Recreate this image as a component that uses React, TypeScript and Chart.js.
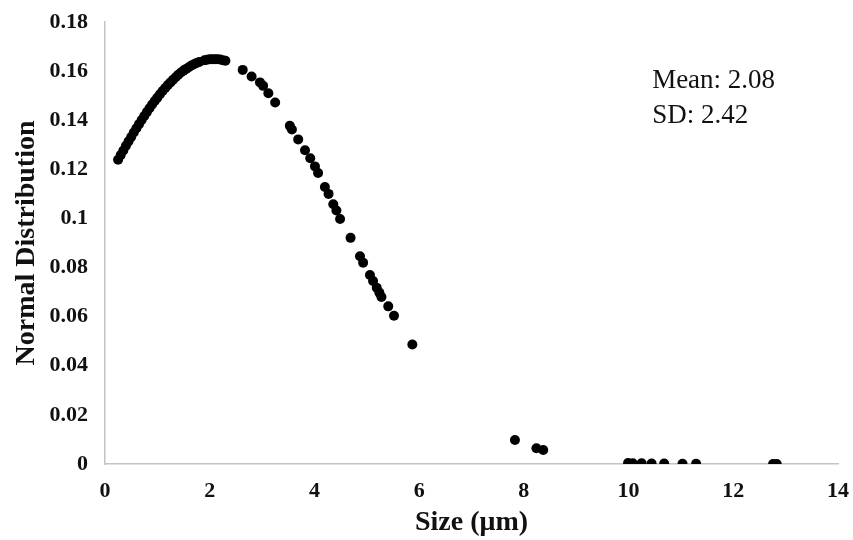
import React, { useEffect, useRef } from "react";
import { Chart, registerables } from "chart.js";

Chart.register(...registerables);

// Size (µm) values
const sizes: number[] = [
  0.25, 0.3, 0.35, 0.4, 0.45, 0.5, 0.55, 0.6, 0.65, 0.7, 0.75, 0.8, 0.85, 0.9, 0.95,
  1.0, 1.05, 1.1, 1.15, 1.2, 1.25, 1.3, 1.35, 1.4, 1.45, 1.5, 1.55, 1.6, 1.65, 1.7,
  1.75, 1.8, 1.9, 1.95, 2.0, 2.05, 2.1, 2.15, 2.2, 2.25, 2.3,
  2.63, 2.8, 2.96, 3.02, 3.12, 3.25, 3.53, 3.57, 3.69, 3.82, 3.92, 4.01, 4.07,
  4.2, 4.27, 4.36, 4.42, 4.49, 4.69, 4.87, 4.93, 5.06, 5.12, 5.19, 5.24, 5.28,
  5.41, 5.52, 5.87,
  7.83, 8.24, 8.37,
  9.99, 10.08, 10.25, 10.44, 10.68, 11.03, 11.29, 12.76, 12.83,
];

// Normal distribution values
const densities: number[] = [
  0.1239, 0.1258, 0.1277, 0.1296, 0.1314, 0.1332, 0.135, 0.1367, 0.1384, 0.1401, 0.1417,
  0.1433, 0.1449, 0.1464, 0.1478, 0.1492, 0.1506, 0.1519, 0.1531, 0.1543, 0.1554,
  0.1565, 0.1575, 0.1585, 0.1594, 0.1602, 0.1609, 0.1616, 0.1623, 0.1628, 0.1633,
  0.1637, 0.1644, 0.1646, 0.1648, 0.1648, 0.1648, 0.1648, 0.1647, 0.1644, 0.1642,
  0.1605, 0.1578, 0.1554, 0.154, 0.151, 0.1472, 0.1377, 0.1362, 0.1322, 0.1278,
  0.1245, 0.1212, 0.1185, 0.1128, 0.11, 0.1058, 0.1032, 0.0998, 0.0921, 0.0846,
  0.082, 0.077, 0.0745, 0.0718, 0.0698, 0.068, 0.0642, 0.0604, 0.0487,
  0.0098, 0.0064, 0.0057,
  0.0004, 0.0003, 0.0003, 0.0002, 0.0002, 0.0001, 0.0001, 0.0, 0.0,
];

const annotationLines: string[] = ["Mean: 2.08", "SD: 2.42"];

const xTitle = "Size (\u03bcm)";
const yTitle = "Normal Distribution";

const serif = "'Liberation Serif', 'Times New Roman', serif";

export default function App() {
  const canvasRef = useRef<HTMLCanvasElement | null>(null);

  useEffect(() => {
    if (!canvasRef.current) return;
    const annotationPlugin = {
      id: "statsText",
      afterDraw(chart: any) {
        const { ctx, chartArea } = chart;
        const xs = chart.scales.x;
        ctx.save();
        ctx.fillStyle = "#111";
        ctx.font = `27px ${serif}`;
        ctx.textAlign = "left";
        ctx.textBaseline = "alphabetic";
        const left = xs.getPixelForValue(10.45);
        annotationLines.forEach((t, i) => {
          ctx.fillText(t, left, chartArea.top + 66 + i * 35);
        });
        ctx.restore();
      },
    };

    const chart = new Chart(canvasRef.current, {
      type: "scatter",
      data: {
        datasets: [
          {
            data: sizes.map((s, i) => ({ x: s, y: densities[i] })),
            backgroundColor: "#000",
            borderColor: "#000",
            pointRadius: 5,
            pointBorderWidth: 0,
            pointHoverRadius: 5,
          },
        ],
      },
      options: {
        animation: false,
        responsive: true,
        maintainAspectRatio: false,
        layout: { padding: { top: 22, right: 15, left: 0, bottom: 0 } },
        plugins: { legend: { display: false }, tooltip: { enabled: false } },
        scales: {
          x: {
            type: "linear",
            min: 0,
            max: 14,
            afterFit: (scale: any) => {
              scale.height = 76;
              scale.paddingRight = 0;
              scale.paddingLeft = 0;
            },
            grid: { display: false, drawTicks: false },
            border: { display: true, color: "#c4c4c4", width: 1.5 },
            ticks: {
              stepSize: 2,
              color: "#111",
              padding: 14,
              font: { family: serif, size: 22, weight: "bold" },
              callback: (v: any) => String(v),
            },
            title: {
              display: true,
              text: xTitle,
              color: "#111",
              padding: { top: 0, bottom: 0 },
              font: { family: serif, size: 28, weight: "bold" },
            },
          },
          y: {
            type: "linear",
            min: 0,
            max: 0.18,
            afterFit: (scale: any) => {
              scale.width = 105;
              scale.paddingTop = 0;
              scale.paddingBottom = 0;
            },
            grid: { display: false, drawTicks: false },
            border: { display: true, color: "#c4c4c4", width: 1.5 },
            ticks: {
              stepSize: 0.02,
              color: "#111",
              padding: 17,
              font: { family: serif, size: 22, weight: "bold" },
              callback: (v: any) => String(Math.round(Number(v) * 100) / 100),
            },
            title: {
              display: true,
              text: yTitle,
              color: "#111",
              padding: { top: 10, bottom: 0 },
              font: { family: serif, size: 28, weight: "bold" },
            },
          },
        },
      },
      plugins: [annotationPlugin],
    });
    return () => chart.destroy();
  }, []);

  return (
    <div
      style={{
        position: "fixed",
        left: 0,
        top: 0,
        width: 853,
        height: 540,
        background: "#fff",
      }}
    >
      <canvas ref={canvasRef} />
    </div>
  );
}
